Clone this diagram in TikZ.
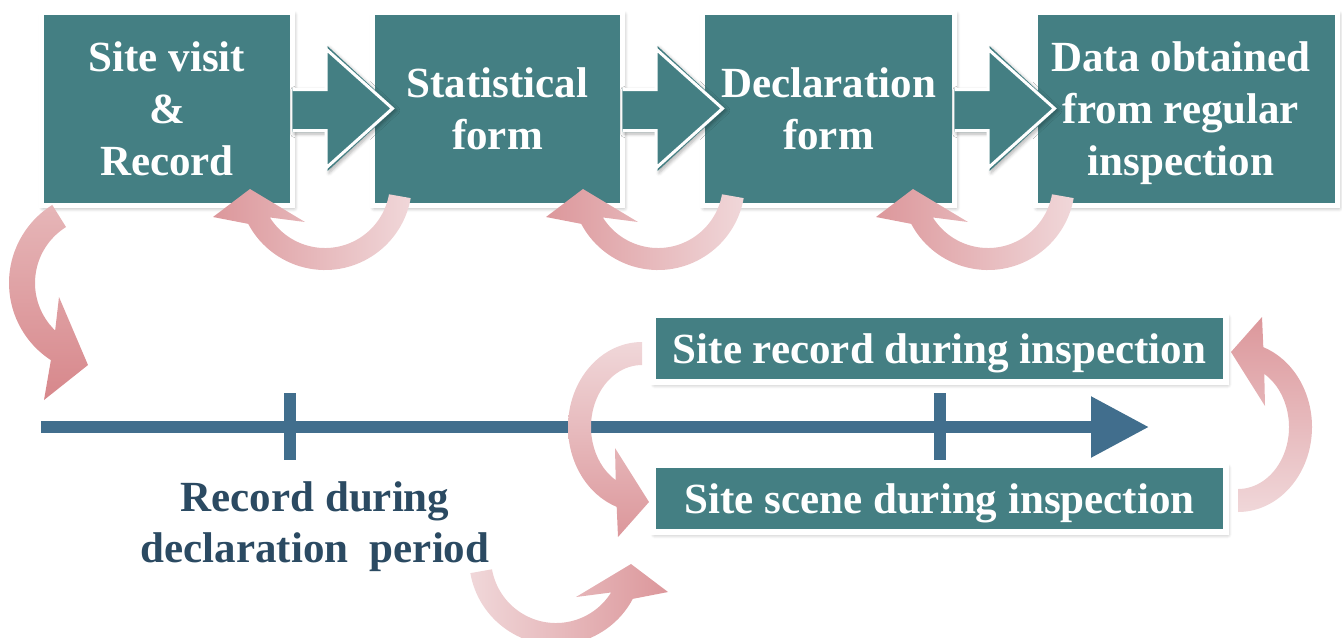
\documentclass[tikz,border=0pt]{standalone}
\usepackage{fontspec}
\setmainfont{Liberation Serif}
\usetikzlibrary{arrows.meta,shadows,shadows.blur}
\definecolor{boxteal}{HTML}{447F83}
\definecolor{tlblue}{HTML}{416E8D}
\definecolor{lblblue}{HTML}{2B4A62}
\definecolor{pkD}{HTML}{DC979B}
\definecolor{pkL}{HTML}{F0D7D9}
\definecolor{pkDD}{HTML}{D7878B}
\definecolor{pkDL}{HTML}{E6B6B8}
\begin{document}
\begin{tikzpicture}[x=0.75pt,y=-0.75pt,
  bshadow/.style={blur shadow={shadow xshift=1.2pt,shadow yshift=-1.8pt,shadow blur radius=3.2pt,shadow blur steps=6,shadow opacity=35}},
  tbox/.style={rectangle, fill=boxteal, draw=white, line width=3.75pt, inner sep=0pt,
    text=white, font=\bfseries\fontsize{32.25}{39}\selectfont, align=center,
    text depth=0pt, minimum height=144.75pt, bshadow},
  rbox/.style={rectangle, fill=boxteal, draw=white, line width=4pt, inner sep=0pt,
    text=white, font=\bfseries\fontsize{32.25}{39}\selectfont, text depth=0pt,
    minimum width=429.75pt, minimum height=49.9pt, bshadow},
  lbl/.style={text=lblblue, font=\bfseries\fontsize{32.25}{38.25}\selectfont,
    align=center, text depth=0pt, inner sep=0pt},
  tl/.style={draw=tlblue, line width=9pt},
  chev/.pic={
    \fill[boxteal, blur shadow={shadow xshift=1.2pt,shadow yshift=-1.5pt,shadow blur radius=2.5pt,shadow blur steps=5,shadow opacity=30}]
      (-2.5,-21) -- (32.5,-21) -- (32.5,-63) -- (100,-0.5) -- (32.5,62) -- (32.5,23) -- (-2.5,23) -- cycle;
    \fill[boxteal]
      (-2.5,-19.5) -- (31,-19.5) -- (31,-60) -- (97.5,-0.5) -- (31,59) -- (31,21.5) -- (-2.5,21.5) -- cycle;
    \draw[white, line width=2.25pt, line join=miter]
      (-2.5,-19.5) -- (31,-19.5) -- (31,-60) -- (97.5,-0.5) -- (31,59) -- (31,21.5) -- (-2.5,21.5);
  },
  loopA/.pic={
    \shade[left color=pkD, right color=pkL]
      (10:87) arc[start angle=10,end angle=152,radius=87]
      -- (-112,34) -- (-75,6) -- (-20,39)
      -- (148:65) arc[start angle=148,end angle=10,radius=65] -- cycle;
  },
  loopAm/.pic={
    \shade[left color=pkL, right color=pkD]
      (170:87) arc[start angle=170,end angle=28,radius=87]
      -- (112,34) -- (75,6) -- (20,39)
      -- (32:65) arc[start angle=32,end angle=170,radius=65] -- cycle;
  },
  loopD/.pic={
    \shade[top color=pkDL, bottom color=pkDD]
      (238:92) arc[start angle=238,end angle=123,radius=92]
      -- (-57,117) -- (-13,82) -- (-42,14)
      -- (134:66) arc[start angle=134,end angle=238,radius=66] -- cycle;
  },
  loopE/.pic={
    \shade[top color=pkL, bottom color=pkD]
      (270:74 and 85) arc[start angle=270,end angle=110,x radius=74,y radius=85]
      -- (-24,110) -- (7,75) -- (-27,21)
      -- (121:51 and 62) arc[start angle=121,end angle=270,x radius=51,y radius=62] -- cycle;
  },
  loopF/.pic={
    \shade[top color=pkD, bottom color=pkL]
      (90:74 and 85) arc[start angle=90,end angle=-70,x radius=74,y radius=85]
      -- (24,-110) -- (-7,-75) -- (27,-21)
      -- (-59:51 and 62) arc[start angle=-59,end angle=90,x radius=51,y radius=62] -- cycle;
  }
]
\path[use as bounding box] (0,0) rectangle (1342,637);

% top boxes
\node[tbox, minimum width=188.25pt] (b1) at (167,109) {Site visit\\\&\\Record};
\node[tbox, minimum width=187.5pt] (b2) at (497.5,109) {Statistical\\form};
\node[tbox, minimum width=189pt] (b3) at (828.5,109) {Declaration\\form};
\node[tbox, minimum width=226.5pt] (b4) at (1186.5,109) {};
\node[text=white, font=\bfseries\fontsize{32.25}{39}\selectfont, align=center, text depth=0pt, inner sep=0pt]
  (b4t) at (1181,109) {Data obtained\\from regular\\inspection};

% chevron connectors
\pic at (b1.east) {chev};
\pic at (b2.east) {chev};
\pic at (b3.east) {chev};

% feedback loops
\pic at (325,183) {loopA};
\pic at (658,183) {loopA};
\pic at (988,183) {loopA};
\pic at (101,283) {loopD};

% timeline
\coordinate (t0) at (41,427);
\coordinate (t1) at (1149,427);
\draw[tl, -{Triangle[length=43.5pt,width=43.5pt]}] (t0) -- (t1);
\draw[tl] (290,393) -- (290,460);
\draw[tl] (939.5,393) -- (939.5,460);

% right boxes
\node[rbox] (r1) at (939.5,348.75) {Site record during inspection};
\node[rbox] (r2) at (939.5,498.75) {Site scene during inspection};

\pic at (642,427) {loopE};
\pic at (1238,427) {loopF};

% label
\node[lbl] (lab) at (315,522.5) {Record during\\declaration~~period};
\pic at (556,558) {loopAm};
\end{tikzpicture}
\end{document}
